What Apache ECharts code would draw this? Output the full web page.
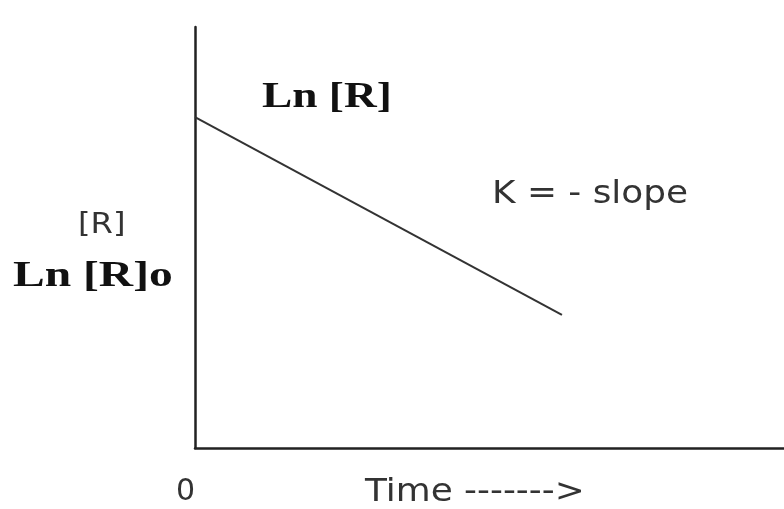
<!DOCTYPE html>
<html>
<head>
<meta charset="utf-8">
<script src="https://cdn.jsdelivr.net/npm/echarts@6/dist/echarts.min.js"></script>
<style>
  html, body { margin: 0; padding: 0; background: #fff; }
  #chart { width: 784px; height: 509px; }
</style>
</head>
<body>
<div id="chart"></div>
<script>
// first-order kinetics: ln[R] falls linearly with time
const timeValues = [0, 62.3]
const lnRValues = [78.6, 31.6]
const xTickLabels = ['0']

const chart = echarts.init(document.getElementById('chart'))

const sans = '"DejaVu Sans", "Liberation Sans", sans-serif'
const serif = '"Liberation Serif", "DejaVu Serif", serif'

chart.setOption({
  animation: false,
  grid: { left: 195, right: 0, top: 27, bottom: 61 },
  xAxis: {
    type: 'value',
    min: 0,
    max: 100,
    interval: 100,
    splitLine: { show: false },
    axisTick: { show: false },
    axisLine: { lineStyle: { color: '#222', width: 2.5 } },
    axisLabel: {
      showMaxLabel: false,
      align: 'right',
      margin: 29,
      fontFamily: sans,
      fontSize: 30,
      color: '#333',
      formatter: v => (v === 0 ? xTickLabels[0] : '')
    }
  },
  yAxis: {
    type: 'value',
    min: 0,
    max: 100,
    splitLine: { show: false },
    axisTick: { show: false },
    axisLabel: { show: false },
    axisLine: { show: true, lineStyle: { color: '#222', width: 2.5 } }
  },
  series: [{
    type: 'line',
    data: timeValues.map((t, i) => [t, lnRValues[i]]),
    symbol: 'none',
    lineStyle: { color: '#333', width: 2 }
  }],
  graphic: [
    {
      type: 'text', x: 262, y: 98, scaleX: 1.26,
      style: { text: 'Ln [R]', font: 'bold 36px ' + serif, fill: '#111', textVerticalAlign: 'middle' }
    },
    {
      type: 'text', x: 492, y: 195, scaleX: 1.12,
      style: { text: 'K = - slope', font: '32px ' + sans, fill: '#333', textVerticalAlign: 'middle' }
    },
    {
      type: 'text', x: 78, y: 226, scaleX: 1.15,
      style: { text: '[R]', font: '28px ' + sans, fill: '#333', textVerticalAlign: 'middle' }
    },
    {
      type: 'text', x: 13, y: 277, scaleX: 1.32,
      style: { text: 'Ln [R]o', font: 'bold 36px ' + serif, fill: '#111', textVerticalAlign: 'middle' }
    },
    {
      type: 'text', x: 365, y: 493, scaleX: 1.12,
      style: { text: 'Time ------->', font: '32px ' + sans, fill: '#333', textVerticalAlign: 'middle' }
    }
  ]
})
</script>
</body>
</html>
